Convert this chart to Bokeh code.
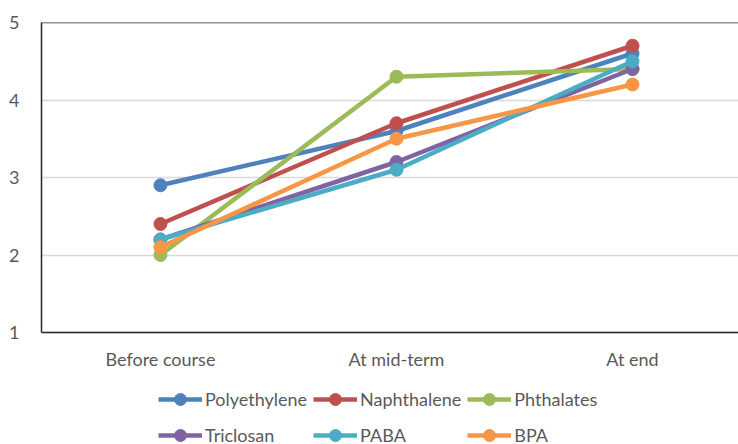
from bokeh.plotting import figure
from bokeh.models import Range1d, FixedTicker, Span, Legend, LegendItem
from bokeh.embed import file_html
from bokeh.resources import INLINE

categories = ["Before course", "At mid-term", "At end"]
x_pos = [0, 1, 2]
series_names = ["Polyethylene", "Naphthalene", "Phthalates", "Triclosan", "PABA", "BPA"]
polyethylene = [2.9, 3.6, 4.6]
naphthalene = [2.4, 3.7, 4.7]
phthalates = [2.0, 4.3, 4.4]
triclosan = [2.2, 3.2, 4.4]
paba = [2.2, 3.1, 4.5]
bpa = [2.1, 3.5, 4.2]
y_ticks = [1, 2, 3, 4, 5]

colors = ["#4F81BD", "#C0504D", "#9BBB59", "#8064A2", "#4BACC6", "#F79646"]
series = [polyethylene, naphthalene, phthalates, triclosan, paba, bpa]

FONT = "Lato"
TXT = "#595959"

# frame spans from y=22 to the bottom of the canvas; value 1 sits at y=332
p = figure(width=738, height=444, output_backend="svg", toolbar_location=None,
           x_range=Range1d(-0.504, 2.449), y_range=Range1d(-0.445, 5),
           min_border_left=41, min_border_right=0, min_border_top=22, min_border_bottom=0)
p.outline_line_color = None
p.background_fill_color = "white"

p.xaxis.ticker = FixedTicker(ticks=x_pos)
p.xaxis.major_label_overrides = {i: c for i, c in zip(x_pos, categories)}
p.xaxis.fixed_location = 1
p.yaxis.ticker = FixedTicker(ticks=y_ticks)
p.yaxis.bounds = (1, 5)
for ax in (p.xaxis, p.yaxis):
    ax.axis_line_color = "#262626"
    ax.axis_line_width = 1.5
    ax.major_tick_line_color = None
    ax.minor_tick_line_color = None
    ax.major_tick_out = 0
    ax.major_tick_in = 0
    ax.major_label_text_font = FONT
    ax.major_label_text_font_size = "18px"
    ax.major_label_text_color = TXT
p.yaxis.major_label_standoff = 22
p.xaxis.major_label_standoff = 15
p.xgrid.grid_line_color = None
p.ygrid.grid_line_color = "#D9D9D9"
p.ygrid.grid_line_width = 1.5
p.ygrid.bounds = (1, 5)

p.add_layout(Span(location=5, dimension="width", line_color="#262626", line_width=1.5))

items = []
for name, vals, col in zip(series_names, series, colors):
    l = p.line(x_pos, vals, line_color=col, line_width=4.5)
    c = p.scatter(x_pos, vals, size=13, fill_color=col, line_color=col)
    items.append(LegendItem(label=name, renderers=[l, c]))

legend = Legend(items=items, ncols=3, location=(117, -6), orientation="horizontal",
                glyph_width=44, glyph_height=30, label_height=30, label_width=100,
                label_standoff=3, spacing=6, padding=0, margin=0,
                label_text_font=FONT, label_text_font_size="18px", label_text_color=TXT,
                border_line_color=None, background_fill_alpha=0)
p.add_layout(legend, "center")

open("out.html", "w").write(file_html(p, INLINE))
